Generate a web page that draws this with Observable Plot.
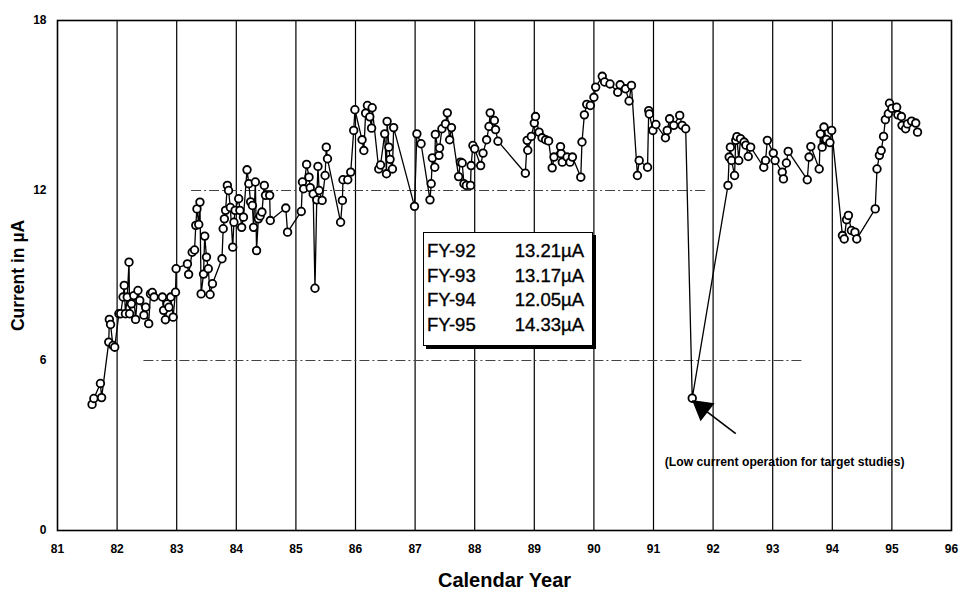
<!DOCTYPE html>
<html>
<head>
<meta charset="utf-8">
<script src="https://cdn.jsdelivr.net/npm/d3@7"></script>
<script src="https://cdn.jsdelivr.net/npm/@observablehq/plot@0.6"></script>
<style>
  html, body { margin: 0; padding: 0; background: #fff; }
  #wrap { position: relative; width: 959px; height: 592px; font-family: "Liberation Sans", Arial, sans-serif; }
  #legend { position: absolute; left: 423px; top: 232px; width: 170px; height: 114px; border: 1.5px solid #000; background: #fff; box-shadow: 3px 3px 0 #000; box-sizing: border-box; padding: 6px 8px 0 3px; }
  #legend .row { display: flex; justify-content: space-between; font-size: 18.5px; line-height: 24.6px; color: #000; -webkit-text-stroke: 0.35px #000; }
</style>
</head>
<body>
<div id="wrap"></div>
<script>
const years = [
  81.58,81.61,81.72,81.74,81.86,81.87,81.89,81.93,81.96,
  82.03,82.06,82.10,82.12,82.14,82.17,82.20,82.21,82.24,82.28,82.31,82.35,82.38,82.45,82.48,82.53,82.56,82.59,82.62,82.76,82.78,82.81,82.84,82.87,82.90,82.94,82.98,
  82.99,83.18,83.20,83.26,83.30,83.32,83.34,83.37,83.39,83.41,83.45,83.47,83.50,83.53,83.56,83.60,83.76,83.78,83.80,83.82,83.85,83.87,83.90,83.94,83.96,83.98,
  84.04,84.06,84.09,84.12,84.18,84.21,84.24,84.27,84.29,84.32,84.34,84.37,84.40,84.43,84.47,84.49,84.56,84.57,84.83,84.86,
  85.09,85.11,85.13,85.18,85.22,85.24,85.29,85.32,85.35,85.37,85.39,85.44,85.49,85.51,85.53,85.75,85.78,85.79,85.87,85.92,85.97,85.99,
  86.11,86.14,86.17,86.20,86.24,86.27,86.28,86.39,86.42,86.49,86.52,86.53,86.56,86.58,86.62,86.64,86.99,
  87.03,87.10,87.25,87.27,87.29,87.33,87.34,87.40,87.41,87.45,87.51,87.54,87.58,87.61,87.73,87.76,87.79,87.82,87.86,87.93,87.94,87.97,
  88.00,88.10,88.14,88.20,88.24,88.26,88.33,88.35,88.39,88.85,88.88,88.89,88.95,89.00,89.02,
  89.08,89.13,89.19,89.24,89.30,89.33,89.44,89.45,89.47,89.55,89.60,89.64,89.78,89.80,89.84,89.88,89.94,90.00,
  90.03,90.14,90.18,90.27,90.40,90.44,90.53,90.59,90.63,90.73,90.76,90.90,90.92,90.93,90.99,
  91.04,91.20,91.23,91.27,91.34,91.44,91.48,91.54,91.65,
  92.25,92.27,92.29,92.31,92.36,92.38,92.40,92.43,92.46,92.52,92.55,92.59,92.63,92.85,92.88,92.91,
  93.01,93.04,93.16,93.18,93.23,93.26,93.58,93.61,93.64,93.78,93.80,93.83,93.86,93.90,93.96,93.99,
  94.17,94.20,94.24,94.27,94.32,94.38,94.41,94.72,94.75,94.79,94.82,94.86,94.89,94.94,94.96,
  95.00,95.08,95.10,95.16,95.17,95.23,95.26,95.33,95.40,95.43
];
const current = [
  4.45,4.66,5.19,4.69,6.65,7.45,7.27,6.53,6.47,
  7.65,7.65,8.24,8.65,7.65,8.24,9.47,7.65,8.00,8.29,7.45,8.47,8.12,7.60,7.88,7.30,8.35,8.40,8.24,8.24,7.77,7.44,8.00,7.88,8.24,7.53,8.41,
  9.24,9.41,9.04,9.82,9.90,10.77,11.35,10.80,11.59,8.35,9.05,10.39,9.65,9.24,8.33,8.71,9.59,10.65,11.00,11.30,12.18,12.00,11.40,10.00,10.88,11.30,
  11.71,11.30,10.70,11.06,12.73,12.24,11.60,11.47,10.70,12.30,9.88,11.00,11.10,11.24,12.18,11.83,11.83,10.94,11.38,10.53,
  11.26,12.30,12.06,12.92,12.47,12.10,11.88,8.55,11.67,12.85,12.00,11.65,12.53,13.53,13.12,10.88,11.65,12.38,12.38,12.65,14.12,14.85,
  13.79,13.41,14.73,15.00,14.60,14.20,14.92,12.76,12.90,14.00,12.59,14.44,13.53,13.10,12.76,14.22,11.44,
  14.00,13.65,11.67,12.24,13.15,12.82,13.98,13.24,13.50,14.18,14.35,14.74,13.79,14.22,12.49,13.00,12.97,12.24,12.18,12.18,12.88,13.59,
  13.47,12.88,13.32,13.79,14.26,14.74,14.47,14.15,13.74,12.61,13.77,13.42,13.91,14.38,14.61,
  14.06,13.86,13.79,13.75,12.80,13.18,13.55,13.30,13.00,13.18,13.00,13.18,12.47,13.71,14.67,15.04,15.00,15.29,
  15.65,16.03,15.83,15.76,15.47,15.73,15.59,15.16,15.71,12.53,13.06,12.82,14.82,14.70,14.12,
  14.33,13.86,14.12,14.53,14.30,14.65,14.30,14.18,4.67,
  12.18,13.18,13.53,13.06,12.53,13.77,13.90,13.06,13.83,13.71,13.60,13.20,13.53,12.82,13.06,13.77,
  13.32,13.06,12.65,12.41,12.97,13.38,12.38,13.18,13.55,12.76,14.00,13.53,14.24,13.80,13.69,14.12,
  10.41,10.29,10.97,11.12,10.59,10.53,10.29,11.35,12.76,13.24,13.41,13.91,14.50,14.71,15.08,
  14.90,14.94,14.67,14.61,14.30,14.18,14.35,14.45,14.38,14.06
];
const xTicks = [81,82,83,84,85,86,87,88,89,90,91,92,93,94,95,96];
const yTicks = [0,6,12,18];
const dashedLevels = [12, 6];
const fyLabels = ["FY-92","FY-93","FY-94","FY-95"];
const fyAverages = ["13.21µA","13.17µA","12.05µA","14.33µA"];
const noteText = "(Low current operation for target studies)";

const data = years.map((y, i) => ({year: y, value: current[i]}));
// the annotated point: the low-current operation dip after 1990
const low = data.filter(d => d.year > 90).reduce((a, b) => (b.value < a.value ? b : a));

const chart = Plot.plot({
  width: 959,
  height: 592,
  marginLeft: 57,
  marginRight: 8,
  marginTop: 20,
  marginBottom: 62,
  style: {fontFamily: "'Liberation Sans', Arial, sans-serif", background: "#fff", color: "#000"},
  x: {domain: [81, 96], ticks: xTicks, tickFormat: d => String(d), label: null, tickSize: 0},
  y: {domain: [0, 18], ticks: yTicks, tickFormat: d => String(d), label: null, tickSize: 0},
  marks: [
    Plot.ruleX(xTicks.slice(1, -1), {stroke: "#000", strokeWidth: 1.2}),
    Plot.ruleY([dashedLevels[0]], {x1: 83.25, x2: 91.9, stroke: "#444", strokeWidth: 1, strokeDasharray: "10,3,2,3"}),
    Plot.ruleY([dashedLevels[1]], {x1: 82.45, x2: 93.5, stroke: "#444", strokeWidth: 1, strokeDasharray: "10,3,2,3"}),
    Plot.frame({stroke: "#000", strokeWidth: 1.6}),
    Plot.axisX({ticks: xTicks, tickSize: 0, tickPadding: 14, fontSize: 12, fontWeight: "bold", label: null, tickFormat: d => String(d)}),
    Plot.axisY({ticks: yTicks, tickSize: 0, tickPadding: 11, fontSize: 12, fontWeight: "bold", label: null, tickFormat: d => String(d)}),
    Plot.line(data, {x: "year", y: "value", stroke: "#000", strokeWidth: 1.3}),
    Plot.dot(data, {x: "year", y: "value", r: 3.8, fill: "#fff", stroke: "#000", strokeWidth: 1.8}),
    Plot.link([low], {x1: d => d.year + 0.73, y1: d => d.value - 1.25, x2: d => d.year + 0.2, y2: d => d.value - 0.4, stroke: "#000", strokeWidth: 1.6}),
    Plot.dot([low], {x: d => d.year + 0.17, y: d => d.value - 0.35, symbol: "triangle", r: 7.5, fill: "#000", stroke: "#000", rotate: -52}),
    Plot.text([noteText], {x: 93.2, y: 2.43, text: d => d, fontSize: 12.2, fontWeight: "bold", textAnchor: "middle", fill: "#000"}),
    Plot.text(["Calendar Year"], {frameAnchor: "bottom", dy: 56, text: d => d, fontSize: 20, fontWeight: "bold", fill: "#000"}),
    Plot.text(["Current in µA"], {frameAnchor: "left", dx: -39, rotate: -90, textAnchor: "middle", text: d => d, fontSize: 17.5, fontWeight: "bold", fill: "#000"})
  ]
});

const wrap = document.getElementById("wrap");
wrap.appendChild(chart);
const legend = document.createElement("div");
legend.id = "legend";
fyLabels.forEach((lab, i) => {
  const row = document.createElement("div");
  row.className = "row";
  const a = document.createElement("span"); a.textContent = lab;
  const b = document.createElement("span"); b.textContent = fyAverages[i];
  row.appendChild(a); row.appendChild(b);
  legend.appendChild(row);
});
wrap.appendChild(legend);
</script>
</body>
</html>
